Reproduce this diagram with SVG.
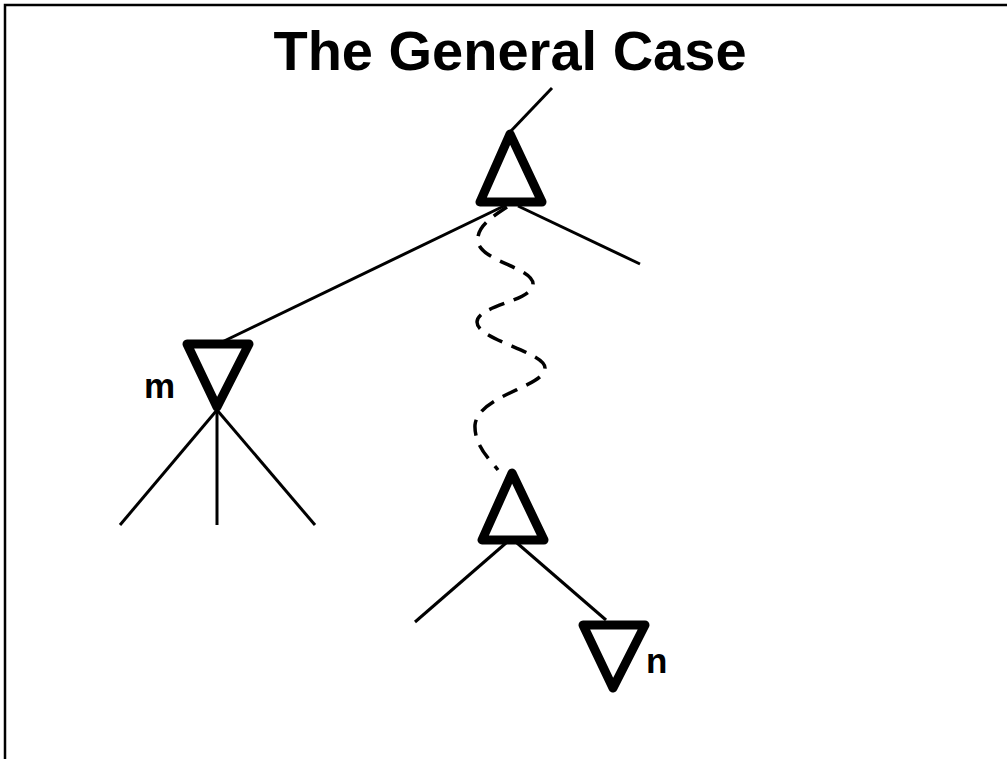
<svg xmlns="http://www.w3.org/2000/svg" width="1007" height="759" viewBox="0 0 1007 759">
<style>
.tri{fill:none;stroke:#000;stroke-width:9;stroke-linejoin:round}
.edge{stroke:#000;stroke-width:3;fill:none}
.dash{stroke:#000;stroke-width:3.5;fill:none;stroke-dasharray:16 10}
.lbl{font-family:"Liberation Sans",Arial,sans-serif;font-weight:bold;fill:#000}
</style>
<rect width="1007" height="759" fill="#fff"/>
<path d="M5,759 V5 H1007" fill="none" stroke="#000" stroke-width="2.5"/>
<text class="lbl" x="510" y="70" font-size="56" text-anchor="middle">The General Case</text>
<g id="connectors">
<line class="edge" x1="510" y1="132" x2="552" y2="88"/>
<line class="edge" x1="518" y1="206" x2="640" y2="264"/>
<line class="edge" x1="506" y1="205" x2="220" y2="343"/>
<line class="edge" x1="217" y1="410" x2="120" y2="525"/>
<line class="edge" x1="217" y1="410" x2="217" y2="525"/>
<line class="edge" x1="217" y1="410" x2="315" y2="525"/>
<line class="edge" x1="506" y1="543" x2="415" y2="622"/>
<line class="edge" x1="517" y1="543" x2="606" y2="620"/>
<path class="dash" d="M507,207 C490,218 476,228 478,242 C482,262 535,268 533,285 C530,302 478,305 477,322 C477,340 545,352 545,368 C545,387 478,395 475,425 C474,445 490,460 498,470"/>
</g>
<g id="node-top"><polygon class="tri" points="510,134 480,202 542,202"/></g>
<g id="node-m"><polygon class="tri" points="187,344 249,344 217,407"/><text class="lbl" x="144" y="398" font-size="35">m</text></g>
<g id="node-n"><polygon class="tri" points="583,625 645,625 613,688"/><text class="lbl" x="646" y="673" font-size="35">n</text></g>
<g id="node-mid"><polygon class="tri" points="512,473 482,540 544,540"/></g>
</svg>
